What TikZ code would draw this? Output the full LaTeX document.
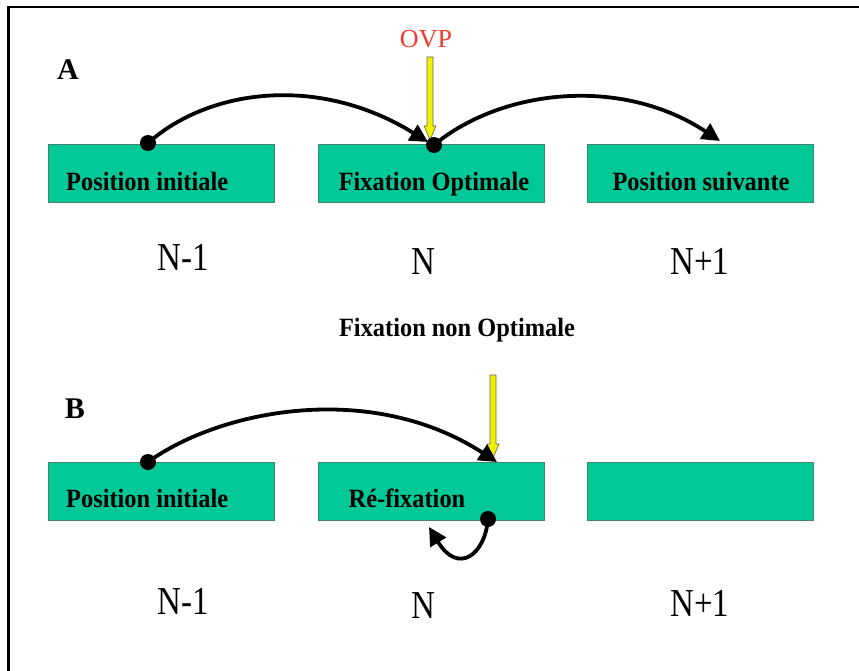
\documentclass[tikz,border=0pt]{standalone}
\usepackage{fontspec}
\setmainfont{Liberation Serif}
\usetikzlibrary{arrows.meta}
\definecolor{boxfill}{RGB}{0,200,150}
\definecolor{boxline}{RGB}{70,130,110}
\definecolor{ovpred}{RGB}{240,60,40}
\definecolor{ylw}{RGB}{240,240,0}
\newcommand{\tallN}[1]{\scalebox{1}[1.2]{#1}}
\newcommand{\tallB}[1]{\scalebox{1}[1.08]{#1}}
\tikzset{
  wbox/.style={draw=boxline, line width=1pt, fill=boxfill, minimum width=226pt, minimum height=58pt, inner sep=0pt},
  btext/.style={font=\fontsize{24.4}{26}\selectfont\bfseries, inner sep=0pt},
  nlab/.style={font=\fontsize{33}{36}\selectfont, inner sep=0pt},
  dot/.style={circle, fill=black, minimum size=16pt, inner sep=0pt},
  sacc/.style={line width=3.8pt, -{Triangle[length=18pt, width=18pt]}, shorten >=0pt},
  yarrow/.style={draw=black!60, line width=0.6pt, fill=ylw}
}
\newcommand{\yarr}[3]{% x, ytop, ybottom
  \filldraw[yarrow] (#1-3,#2) -- (#1+3,#2) -- (#1+3,#3-14) -- (#1+6,#3-14) -- (#1,#3) -- (#1-6,#3-14) -- (#1-3,#3-14) -- cycle;}
\begin{document}
\begin{tikzpicture}[x=1pt,y=-1pt]
\useasboundingbox (0,0) rectangle (859,671);
\fill[white] (0,0) rectangle (859,671);
% frame
\draw[line width=2.2pt] (8.5,671) -- (8.5,7) -- (859,7);

% labels
\node[font=\fontsize{30}{32}\selectfont\bfseries, anchor=base, inner sep=0pt] (lA) at (68,80) {A};
\node[font=\fontsize{30}{32}\selectfont\bfseries, anchor=base, inner sep=0pt] (lB) at (75,418) {B};

% row A boxes
\node[wbox, anchor=north west] (a1) at (48,144) {};
\node[wbox, anchor=north west] (a2) at (318,144) {};
\node[wbox, anchor=north west] (a3) at (587,144) {};
\node[btext, anchor=base west] (ta1) at (66,191) {\tallB{Position initiale}};
\node[btext, anchor=base] (ta2) at (434,191) {\tallB{Fixation Optimale}};
\node[btext, anchor=base] (ta3) at (701,191) {\tallB{Position suivante}};

% row B boxes
\node[wbox, anchor=north west] (b1) at (48,462) {};
\node[wbox, anchor=north west] (b2) at (318,462) {};
\node[wbox, anchor=north west] (b3) at (587,462) {};
\node[btext, anchor=base west] (tb1) at (66,507) {\tallB{Position initiale}};
\node[btext, anchor=base] (tb2) at (407,507) {\tallB{Ré-fixation}};

% N labels
\node[nlab, anchor=base] (na1) at (183,270) {\tallN{N-1}};
\node[nlab, anchor=base] (na2) at (423,274) {\tallN{N}};
\node[nlab, anchor=base] (na3) at (700,274) {\tallN{N+1}};
\node[nlab, anchor=base] (nb1) at (183,614) {\tallN{N-1}};
\node[nlab, anchor=base] (nb2) at (423,618) {\tallN{N}};
\node[nlab, anchor=base] (nb3) at (700,616) {\tallN{N+1}};

\node[btext, anchor=base] (fno) at (457,336) {\tallB{Fixation non Optimale}};
\node[font=\fontsize{26}{28}\selectfont, text=ovpred, anchor=base, inner sep=0pt] (ovp) at (426,48) {OVP};

% yellow arrows
\yarr{430}{57}{140}
\yarr{493}{375}{458}

% dots
\node[dot] (d1) at (148,143) {};
\node[dot] (d2) at (434,145) {};
\node[dot] (d3) at (148,462) {};
\node[dot] (d4) at (488,519) {};

\coordinate (e1) at (428,142);
\coordinate (e2) at (720,141);
\coordinate (e3) at (497,462);
\coordinate (e4) at (429,527);

% saccades
\draw[sacc] (d1.center) .. controls (210,88) and (320,75) .. (e1);
\draw[sacc] (d2.center) .. controls (500,90) and (620,75) .. (e2);
\draw[sacc] (d3.center) .. controls (220,410) and (370,380) .. (e3);
\draw[sacc] (d4.center) .. controls (485,555) and (458,575) .. (e4);
\end{tikzpicture}
\end{document}
